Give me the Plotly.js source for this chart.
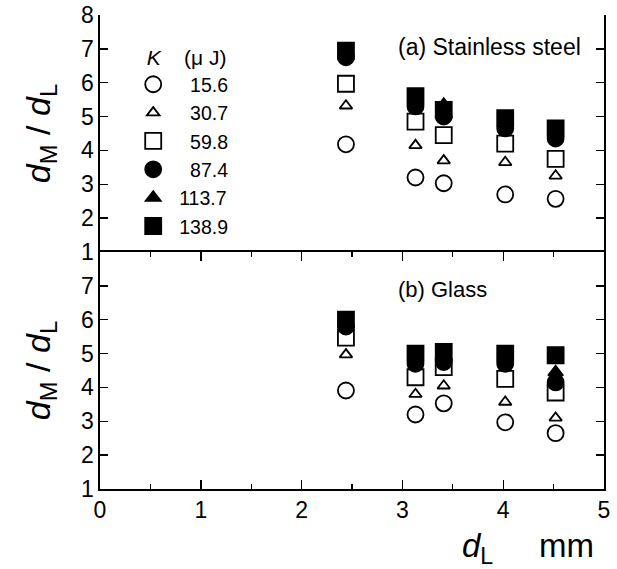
<!DOCTYPE html>
<html>
<head>
<meta charset="utf-8">
<script src="https://cdn.plot.ly/plotly-3.0.1.min.js"></script>
<style>html,body{margin:0;padding:0;background:#fff;}#chart{width:617px;height:569px;}</style>
</head>
<body>
<div id="chart"></div>
<script>
// d_L positions (mm)
const dL = [2.44, 3.13, 3.41, 4.02, 4.52];
// energies K (uJ)
const energies = ['15.6', '30.7', '59.8', '87.4', '113.7', '138.9'];
// (a) Stainless steel: d_M/d_L per energy
const steel_15_6  = [4.18, 3.20, 3.03, 2.70, 2.57];
const steel_30_7  = [5.32, 4.15, 3.70, 3.65, 3.25];
const steel_59_8  = [5.97, 4.85, 4.45, 4.20, 3.75];
const steel_87_4  = [6.75, 5.30, 5.00, 4.65, 4.35];
const steel_113_7 = [6.85, 5.45, 5.35, 4.75, 4.55];
const steel_138_9 = [6.95, 5.60, 5.20, 4.95, 4.65];
// (b) Glass
const glass_15_6  = [3.91, 3.20, 3.53, 2.97, 2.65];
const glass_30_7  = [4.97, 3.80, 4.05, 3.57, 3.10];
const glass_59_8  = [5.47, 4.30, 4.60, 4.25, 3.85];
const glass_87_4  = [5.80, 4.70, 4.75, 4.70, 4.15];
const glass_113_7 = [5.90, 4.80, 4.85, 4.80, 4.45];
const glass_138_9 = [6.00, 5.00, 5.05, 5.00, 4.95];

const steel = [steel_15_6, steel_30_7, steel_59_8, steel_87_4, steel_113_7, steel_138_9];
const glass = [glass_15_6, glass_30_7, glass_59_8, glass_87_4, glass_113_7, glass_138_9];
const symbols = ['circle-open', 'triangle-up-open', 'square-open', 'circle', 'triangle-up', 'square'];
const sizes = [16, 11, 16, 16, 13, 16];
const pads = ['\u00A0\u00A0', '\u00A0\u00A0', '\u00A0\u00A0', '\u00A0\u00A0', '', ''];

const traces = [];
energies.forEach((e, i) => {
  traces.push({
    x: dL, y: steel[i], type: 'scatter', mode: 'markers', name: pads[i] + e,
    xaxis: 'x', yaxis: 'y2', showlegend: true,
    marker: {symbol: symbols[i], size: sizes[i], color: '#000', line: {color: '#000', width: 1.8}}
  });
});
energies.forEach((e, i) => {
  traces.push({
    x: dL, y: glass[i], type: 'scatter', mode: 'markers', name: e,
    xaxis: 'x', yaxis: 'y', showlegend: false,
    marker: {symbol: symbols[i], size: sizes[i], color: '#000', line: {color: '#000', width: 1.8}}
  });
});

const font = {family: 'Liberation Sans, Arial, sans-serif', color: '#000'};
const xcommon = {
  range: [0, 5], showline: true, linecolor: '#000', linewidth: 1.6, mirror: 'ticks',
  ticks: 'inside', ticklen: 9, tickwidth: 1.4, tickcolor: '#000', dtick: 1, showgrid: false, zeroline: false,
  minor: {dtick: 0.5, ticks: 'inside', ticklen: 5, tickwidth: 1.4, tickcolor: '#000', showgrid: false},
  tickfont: {family: font.family, size: 23, color: '#000'}
};
const ytitle = {text: '<i>d</i><sub>M</sub> / <i>d</i><sub>L</sub>', font: {family: font.family, size: 34, color: '#000'}, standoff: 20};

const layout = {
  width: 617, height: 569,
  margin: {l: 100, r: 13, t: 15, b: 80},
  paper_bgcolor: '#fff', plot_bgcolor: '#fff',
  font: font,
  xaxis: Object.assign({}, xcommon, {anchor: 'y', showticklabels: true}),
  xaxis2: Object.assign({}, xcommon, {anchor: 'y2', overlaying: 'x', showticklabels: false, matches: 'x'}),
  yaxis: {
    domain: [0, 0.5], range: [1, 8], tickvals: [1, 2, 3, 4, 5, 6, 7], showline: true, linecolor: '#000', linewidth: 1.6,
    mirror: 'ticks', ticks: 'inside', ticklen: 8, tickwidth: 1.4, tickcolor: '#000', showgrid: false, zeroline: false,
    tickfont: {family: font.family, size: 23, color: '#000'}, title: ytitle
  },
  yaxis2: {
    domain: [0.5, 1], range: [1, 8], tickvals: [1, 2, 3, 4, 5, 6, 7, 8], anchor: 'x', showline: true, linecolor: '#000', linewidth: 1.6,
    mirror: 'ticks', ticks: 'inside', ticklen: 8, tickwidth: 1.4, tickcolor: '#000', showgrid: false, zeroline: false,
    tickfont: {family: font.family, size: 23, color: '#000'}, title: ytitle
  },
  showlegend: true,
  legend: {
    x: 0.054, y: 0.952, xanchor: 'left', yanchor: 'top', bgcolor: 'rgba(0,0,0,0)', borderwidth: 0,
    font: {family: font.family, size: 19.5, color: '#000'}, tracegroupgap: 0, itemwidth: 42,
    title: {text: '\u00A0\u00A0\u00A0<i>K</i>\u00A0\u00A0\u00A0\u00A0(\u03BC\u00A0J)', font: {family: font.family, size: 21, color: '#000'}, side: 'top'}
  },
  annotations: [
    {xref: 'paper', yref: 'paper', x: 0.958, y: 0.932, xanchor: 'right', yanchor: 'middle', showarrow: false,
     text: '(a) Stainless steel', font: {family: font.family, size: 23, color: '#000'}},
    {xref: 'paper', yref: 'paper', x: 0.68, y: 0.42, xanchor: 'center', yanchor: 'middle', showarrow: false,
     text: '(b) Glass', font: {family: font.family, size: 22, color: '#000'}},
    {xref: 'paper', yref: 'paper', x: 0.985, y: -0.125, xanchor: 'right', yanchor: 'middle', showarrow: false,
     text: '<i>d</i><sub>L</sub>\u00A0\u00A0\u00A0\u00A0\u00A0mm', font: {family: font.family, size: 33, color: '#000'}}
  ]
};

Plotly.newPlot('chart', traces, layout, {staticPlot: true, displayModeBar: false});
</script>
</body>
</html>
